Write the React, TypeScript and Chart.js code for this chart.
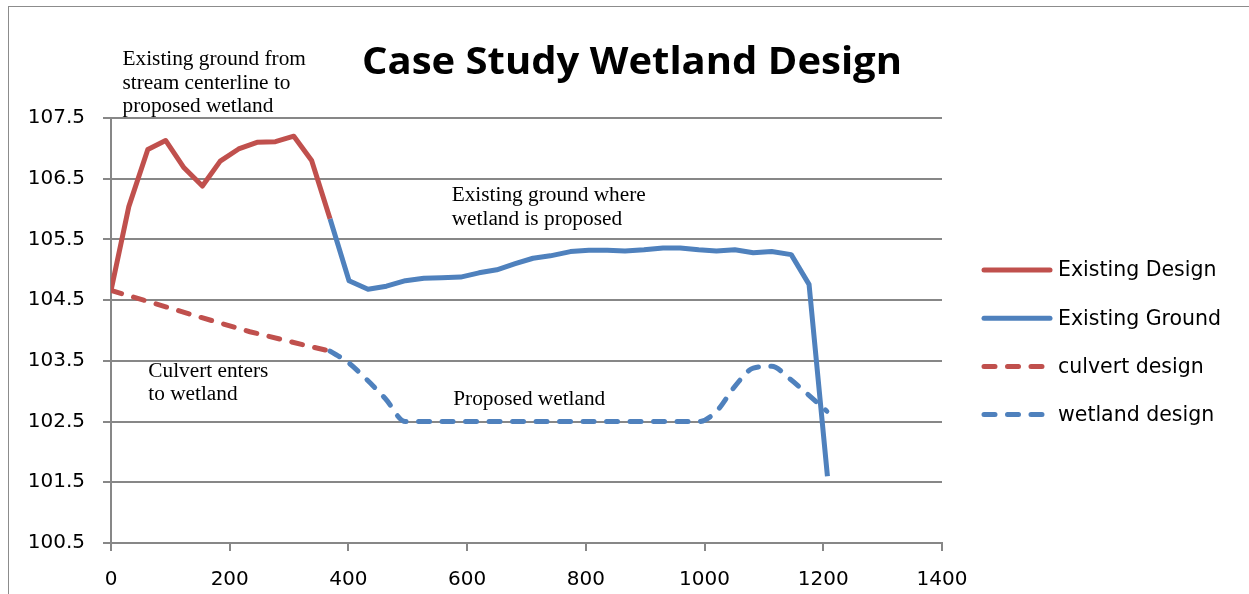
import React, { useEffect, useRef } from "react";
import { Chart, registerables } from "chart.js";

Chart.register(...registerables);

// ---- data ----
const existingDesignX = [0, 30, 62, 92, 123, 154, 184, 215, 246, 277, 308, 338, 369];
const existingDesignY = [104.66, 106.04, 106.98, 107.13, 106.68, 106.38, 106.79, 106.99, 107.1, 107.11, 107.2, 106.8, 105.84];

const existingGroundX = [369, 401, 433, 464, 496, 527, 557, 589, 620, 650, 681, 711, 740, 774, 805, 836, 866, 898, 930, 959, 990, 1020, 1051, 1082, 1113, 1146, 1176, 1207];
const existingGroundY = [105.84, 104.82, 104.68, 104.73, 104.82, 104.86, 104.87, 104.88, 104.95, 105.0, 105.1, 105.19, 105.23, 105.3, 105.32, 105.32, 105.31, 105.33, 105.36, 105.36, 105.33, 105.31, 105.33, 105.28, 105.3, 105.25, 104.76, 101.6];

const culvertX = [0, 55, 150, 234, 330, 369];
const culvertY = [104.66, 104.5, 104.22, 103.98, 103.75, 103.66];

const wetlandX = [369, 400, 431, 462, 496, 557, 620, 681, 740, 805, 866, 930, 990, 1020, 1051, 1082, 1113, 1144, 1175, 1206];
const wetlandY = [103.66, 103.47, 103.19, 102.88, 102.5, 102.5, 102.5, 102.5, 102.5, 102.5, 102.5, 102.5, 102.5, 102.67, 103.08, 103.38, 103.41, 103.2, 102.94, 102.67];

const seriesNames = ["Existing Design", "Existing Ground", "culvert design", "wetland design"];
const xTicks = { min: 0, max: 1400, step: 200 };
const yTicks = { min: 100.5, max: 107.5, step: 1 };

const chartTitle = "Case Study Wetland Design";
const annotations = [
  { x: 19.4, y: 108.37, lines: ["Existing ground from", "stream centerline to", "proposed wetland"] },
  { x: 574, y: 106.13, lines: ["Existing ground where", "wetland is proposed"] },
  { x: 62.8, y: 103.24, lines: ["Culvert enters", "to wetland"] },
  { x: 576.6, y: 102.78, lines: ["Proposed wetland"] },
];

const RED = "#C0504D";
const BLUE = "#4F81BD";
const GRID = "#878787";
const DASH = [11, 12.5];
const LW = 5;

const pts = (xs: number[], ys: number[]) => xs.map((x, i) => ({ x, y: ys[i] }));

const textPlugin = {
  id: "textPlugin",
  afterDraw(chart: any) {
    const ctx = chart.ctx as CanvasRenderingContext2D;
    const xs = chart.scales.x;
    const ys = chart.scales.y;
    ctx.save();
    // title (stretched horizontally to the reference width)
    ctx.fillStyle = "#000";
    ctx.font = 'bold 37px "Open Sans"';
    ctx.textAlign = "left";
    ctx.textBaseline = "alphabetic";
    const tw = ctx.measureText(chartTitle).width;
    const target = 540;
    const sx = target / tw;
    ctx.save();
    ctx.translate(353, 67);
    ctx.scale(sx, 1);
    ctx.fillText(chartTitle, 0, 0);
    ctx.restore();

    // annotations
    ctx.font = '21.3px "Liberation Serif"';
    ctx.textAlign = "left";
    for (const a of annotations) {
      const px = xs.getPixelForValue(a.x);
      const py = ys.getPixelForValue(a.y);
      a.lines.forEach((l, i) => ctx.fillText(l, px, py + i * 23.4));
    }

    // legend
    ctx.font = '20.5px "DejaVu Sans"';
    ctx.textBaseline = "middle";
    chart.data.datasets.forEach((ds: any, i: number) => {
      const y = 263 + i * 48.2;
      ctx.save();
      ctx.strokeStyle = ds.borderColor;
      ctx.lineWidth = LW;
      ctx.lineCap = "round";
      ctx.setLineDash(ds.borderDash || []);
      ctx.beginPath();
      ctx.moveTo(975, y);
      ctx.lineTo(1041, y);
      ctx.stroke();
      ctx.restore();
      ctx.fillStyle = "#000";
      ctx.fillText(ds.label, 1049, y + 1);
    });
    ctx.restore();
  },
};

export default function App() {
  const ref = useRef<HTMLCanvasElement | null>(null);
  useEffect(() => {
    document.body.style.overflow = "hidden";
    const canvas = ref.current!;
    const chart = new Chart(canvas, {
      type: "line",
      data: {
        datasets: [
          {
            label: seriesNames[0],
            data: pts(existingDesignX, existingDesignY),
            borderColor: RED,
            backgroundColor: RED,
            borderWidth: LW,
            pointRadius: 0,
            tension: 0,
            borderJoinStyle: "round",
          },
          {
            label: seriesNames[1],
            data: pts(existingGroundX, existingGroundY),
            borderColor: BLUE,
            backgroundColor: BLUE,
            borderWidth: LW,
            pointRadius: 0,
            tension: 0,
            borderJoinStyle: "round",
          },
          {
            label: seriesNames[2],
            data: pts(culvertX, culvertY),
            borderColor: RED,
            backgroundColor: RED,
            borderWidth: LW,
            borderDash: DASH,
            borderCapStyle: "round",
            pointRadius: 0,
            tension: 0,
          },
          {
            label: seriesNames[3],
            data: pts(wetlandX, wetlandY),
            borderColor: BLUE,
            backgroundColor: BLUE,
            borderWidth: LW,
            borderDash: DASH,
            borderCapStyle: "round",
            pointRadius: 0,
            cubicInterpolationMode: "monotone",
          },
        ],
      },
      options: {
        responsive: false,
        animation: false,
        layout: { padding: { left: 0, top: 111, right: 307, bottom: 0 } },
        plugins: {
          legend: { display: false },
          title: { display: false },
          tooltip: { enabled: false },
        },
        scales: {
          x: {
            type: "linear",
            min: xTicks.min,
            max: xTicks.max,
            ticks: {
              stepSize: xTicks.step,
              color: "#000",
              font: { family: "DejaVu Sans", size: 20 },
              padding: 17,
              maxRotation: 0,
              callback: (v: any) => String(v),
            },
            grid: { drawOnChartArea: false, drawTicks: true, tickLength: 8, color: GRID, lineWidth: 2 },
            border: { display: true, color: GRID, width: 2 },
            afterFit: (s: any) => {
              s.height = 51;
            },
          },
          y: {
            type: "linear",
            min: yTicks.min,
            max: yTicks.max,
            ticks: {
              stepSize: yTicks.step,
              color: "#000",
              font: { family: "DejaVu Sans", size: 20 },
              padding: 18,
              callback: (v: any) => Number(v).toFixed(1),
            },
            grid: { drawOnChartArea: true, drawTicks: true, tickLength: 8, color: GRID, lineWidth: 2 },
            border: { display: true, color: GRID, width: 2 },
            afterFit: (s: any) => {
              s.width = 102;
            },
          },
        },
      },
      plugins: [textPlugin],
    });
    return () => chart.destroy();
  }, []);

  return (
    <div
      style={{
        position: "absolute",
        left: 8,
        top: 6,
        width: 1241,
        height: 588,
        borderLeft: "1px solid #8c8c8c",
        borderTop: "1px solid #8c8c8c",
        boxSizing: "border-box",
        background: "#fff",
      }}
    >
      <canvas ref={ref} width={1240} height={587} style={{ display: "block", width: 1240, height: 587 }} />
    </div>
  );
}
